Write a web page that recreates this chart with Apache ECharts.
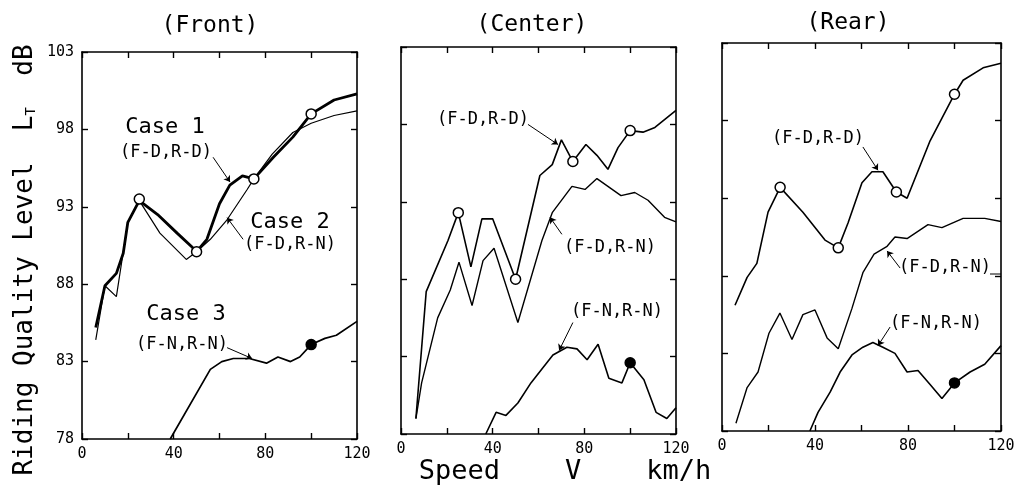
<!DOCTYPE html>
<html>
<head>
<meta charset="utf-8">
<script src="https://cdn.jsdelivr.net/npm/echarts@6/dist/echarts.min.js"></script>
<style>
html, body { margin: 0; padding: 0; background: #fff; }
#chart { width: 1020px; height: 493px; }
</style>
</head>
<body>
<div id="chart"></div>
<script>
// speed V (km/h) and riding quality level LT (dB)

// (Front)
var frontCase1V = [6, 10, 15, 18, 20, 25, 33, 41.5, 48, 50, 54.5, 60, 64.5, 70, 75, 83.5, 92, 100, 110, 120]
var frontCase1L = [85.2, 87.9, 88.7, 90.0, 92.0, 93.4, 92.5, 91.3, 90.4, 90.1, 90.9, 93.2, 94.4, 95.0, 94.8, 96.2, 97.5, 99.0, 99.9, 100.3]
var frontCase2V = [6, 10, 15, 20, 25, 34, 45.5, 50, 56, 63, 72, 75, 83, 92, 100, 110, 120]
var frontCase2L = [84.4, 87.9, 87.2, 92.0, 93.4, 91.3, 89.6, 90.1, 90.9, 92.1, 94.1, 94.8, 96.4, 97.8, 98.4, 98.9, 99.2]
var frontCase3V = [38.5, 56, 61, 66, 73, 80.5, 85.5, 91, 95, 100, 106, 111, 120]
var frontCase3L = [78, 82.5, 83.0, 83.2, 83.2, 82.9, 83.3, 83.0, 83.3, 84.1, 84.5, 84.7, 85.6]
var frontOpenV = [25, 50, 75, 100]
var frontOpenL = [93.5, 90.1, 94.8, 99.0]
var frontFullV = [100]
var frontFullL = [84.1]

// (Center)
var centerDDV = [6.5, 11, 20.5, 25, 30.5, 35.3, 40, 50, 60.6, 66, 70, 75, 80.7, 85.5, 90.3, 94.7, 100, 105.6, 110.8, 120]
var centerDDL = [79.0, 87.2, 90.5, 92.3, 88.8, 91.9, 91.9, 88.0, 94.7, 95.4, 97.0, 95.6, 96.7, 96.0, 95.1, 96.5, 97.6, 97.5, 97.8, 98.9]
var centerDNV = [6.5, 9, 16, 21.5, 25.3, 31, 35.8, 40.6, 51, 61.5, 66, 74.6, 80.3, 85.5, 96, 102, 107.8, 115, 120]
var centerDNL = [79.0, 81.3, 85.5, 87.3, 89.1, 86.3, 89.2, 90.0, 85.2, 90.5, 92.3, 94.0, 93.8, 94.5, 93.4, 93.6, 93.1, 92.0, 91.7]
var centerNNV = [37, 41.5, 45.8, 51, 56.7, 62, 66.3, 72.4, 76.8, 81.2, 86, 90.7, 96.4, 100, 106, 111.3, 116, 120]
var centerNNL = [78, 79.4, 79.2, 80.0, 81.3, 82.3, 83.1, 83.6, 83.5, 82.8, 83.8, 81.6, 81.3, 82.6, 81.5, 79.4, 79.0, 79.7]
var centerOpenV = [25, 50, 75, 100]
var centerOpenL = [92.3, 88.0, 95.6, 97.6]
var centerFullV = [100]
var centerFullL = [82.6]

// (Rear)
var rearDDV = [5.6, 10.8, 15, 19.8, 25, 34.8, 44.3, 50, 54.2, 60.2, 64.5, 69.2, 75, 79.6, 89.5, 100, 103.7, 112.3, 120]
var rearDDL = [86.1, 87.9, 88.8, 92.1, 93.7, 92.1, 90.3, 89.8, 91.4, 94.0, 94.7, 94.7, 93.4, 93.0, 96.7, 99.7, 100.6, 101.4, 101.7]
var rearDNV = [6, 10.8, 15.5, 20.2, 24.9, 30.1, 34.8, 40, 45.2, 50, 55.9, 60.6, 65.4, 71, 74.4, 79.6, 88.6, 94.6, 103.7, 113, 120]
var rearDNL = [78.5, 80.8, 81.8, 84.3, 85.6, 83.9, 85.5, 85.8, 84.0, 83.3, 85.9, 88.2, 89.4, 89.9, 90.5, 90.4, 91.3, 91.1, 91.7, 91.7, 91.5]
var rearNNV = [37.8, 41.3, 46.5, 50.8, 55.9, 60.6, 64.9, 69.2, 74.4, 79.6, 84.3, 89.5, 94.6, 100, 106.7, 113, 120]
var rearNNL = [78, 79.2, 80.5, 81.8, 82.9, 83.4, 83.7, 83.4, 83.0, 81.8, 81.9, 81.0, 80.1, 81.1, 81.8, 82.3, 83.5]
var rearOpenV = [25, 50, 75, 100]
var rearOpenL = [93.7, 89.8, 93.4, 99.7]
var rearFullV = [100]
var rearFullL = [81.1]

var panelTitles = ['(Front)', '(Center)', '(Rear)']
var xMin = 0, xMax = 120, xStep = 20
var yMin = 78, yMax = 103, yStep = 5

var MONO = '"DejaVu Sans Mono", monospace'

function pairs(xs, ys) {
  return xs.map(function (x, i) { return [x, ys[i]] })
}

var chart = echarts.init(document.getElementById('chart'))

var grids = [
  { left: 82, top: 52, width: 275, height: 387 },
  { left: 401, top: 47, width: 275, height: 387 },
  { left: 722, top: 43, width: 279, height: 388 }
]

var xAxes = [], yAxes = []
grids.forEach(function (g, i) {
  // bottom + top
  ;['bottom', 'top'].forEach(function (pos) {
    xAxes.push({
      type: 'value', gridIndex: i, position: pos,
      min: xMin, max: xMax, interval: xStep,
      axisLine: { show: true, onZero: false, lineStyle: { color: '#000', width: 1.6 } },
      axisTick: { show: true, inside: true, length: 6, lineStyle: { color: '#000', width: 1.4 } },
      axisLabel: {
        show: pos === 'bottom', margin: 8, color: '#000', fontFamily: MONO, fontSize: 15,
        showMinLabel: true, showMaxLabel: true,
        formatter: function (v) { return v % 40 === 0 ? String(v) : '' }
      },
      splitLine: { show: false }
    })
  })
  ;['left', 'right'].forEach(function (pos) {
    yAxes.push({
      type: 'value', gridIndex: i, position: pos,
      min: yMin, max: yMax, interval: yStep,
      axisLine: { show: true, onZero: false, lineStyle: { color: '#000', width: 1.6 } },
      axisTick: { show: true, inside: true, length: 6, lineStyle: { color: '#000', width: 1.4 } },
      axisLabel: {
        show: pos === 'left' && i === 0, margin: 8, color: '#000', fontFamily: MONO, fontSize: 15,
        showMinLabel: true, showMaxLabel: true
      },
      splitLine: { show: false }
    })
  })
})

function curve(panel, xs, ys, width, leader) {
  var s = {
    type: 'line', xAxisIndex: panel * 2, yAxisIndex: panel * 2,
    data: pairs(xs, ys), showSymbol: false, symbol: 'none',
    lineStyle: { color: '#000', width: width },
    silent: true, z: 3
  }
  if (leader) {
    s.markLine = {
      silent: true, symbol: ['none', 'arrow'], symbolSize: 6,
      label: { show: false },
      lineStyle: { color: '#000', width: 1, type: 'solid' },
      data: [[{ coord: leader[0] }, { coord: leader[1] }]]
    }
  }
  return s
}

function marks(panel, xs, ys, filled) {
  return {
    type: 'scatter', xAxisIndex: panel * 2, yAxisIndex: panel * 2,
    data: pairs(xs, ys), symbol: 'circle', symbolSize: 10,
    itemStyle: { color: filled ? '#000' : '#fff', borderColor: '#000', borderWidth: 1.5, opacity: 1 },
    silent: true, z: 5
  }
}

var series = [
  curve(0, frontCase2V, frontCase2L, 1.2, [[70.3, 90.9], [63.3, 92.3]]),
  curve(0, frontCase1V, frontCase1L, 2.8, [[57.2, 96.2], [64.6, 94.6]]),
  curve(0, frontCase3V, frontCase3L, 1.7, [[63.3, 83.9], [74.2, 83.2]]),
  marks(0, frontOpenV, frontOpenL, false),
  marks(0, frontFullV, frontFullL, true),

  curve(1, centerDDV, centerDDL, 1.6, [[55.4, 98.0], [68.5, 96.7]]),
  curve(1, centerDNV, centerDNL, 1.4, [[70.2, 90.9], [65, 92.0]]),
  curve(1, centerNNV, centerNNL, 1.6, [[75, 85.2], [69, 83.4]]),
  marks(1, centerOpenV, centerOpenL, false),
  marks(1, centerFullV, centerFullL, true),

  curve(2, rearDDV, rearDDL, 1.6, [[60.6, 96.3], [67.1, 94.8]]),
  curve(2, rearDNV, rearDNL, 1.4, [[76.6, 88.5], [71, 89.6]]),
  curve(2, rearNNV, rearNNL, 1.6, [[72.3, 84.7], [67.1, 83.5]]),
  marks(2, rearOpenV, rearOpenL, false),
  marks(2, rearFullV, rearFullL, true)
]

function txt(x, y, s, size) {
  return {
    type: 'text', x: x, y: y, silent: true,
    style: { text: s, fill: '#000', font: size + 'px ' + MONO, textAlign: 'center', textVerticalAlign: 'middle' }
  }
}

var graphics = [
  txt(210, 26, panelTitles[0], 23),
  txt(532, 25, panelTitles[1], 23),
  txt(848, 23, panelTitles[2], 23),

  txt(165, 127, 'Case 1', 22),
  txt(166, 153, '(F-D,R-D)', 17),
  txt(290, 222, 'Case 2', 22),
  txt(290, 245, '(F-D,R-N)', 17),
  txt(186, 314, 'Case 3', 22),
  txt(182, 345, '(F-N,R-N)', 17),

  txt(483, 120, '(F-D,R-D)', 17),
  txt(610, 248, '(F-D,R-N)', 17),
  txt(617, 312, '(F-N,R-N)', 17),

  txt(818, 139, '(F-D,R-D)', 17),
  txt(945, 268, '(F-D,R-N)', 17),
  txt(936, 324, '(F-N,R-N)', 17),
  { type: 'line', silent: true, shape: { x1: 990, y1: 274, x2: 1001, y2: 274 }, style: { stroke: '#000', lineWidth: 1 } },

  // axis titles
  {
    type: 'text', x: 25, y: 260, rotation: Math.PI / 2, silent: true,
    style: {
      text: '{a|Riding Quality Level  L}{s|T}{a|  dB}',
      textAlign: 'center', textVerticalAlign: 'middle',
      rich: {
        a: { fontFamily: MONO, fontSize: 26, fill: '#000', verticalAlign: 'bottom' },
        s: { fontFamily: MONO, fontSize: 14, fill: '#000', verticalAlign: 'bottom' }
      }
    }
  },
  txt(565, 472, 'Speed    V    km/h', 27)
]

chart.setOption({
  animation: false,
  backgroundColor: '#fff',
  grid: grids,
  xAxis: xAxes,
  yAxis: yAxes,
  series: series,
  graphic: graphics
})
</script>
</body>
</html>
